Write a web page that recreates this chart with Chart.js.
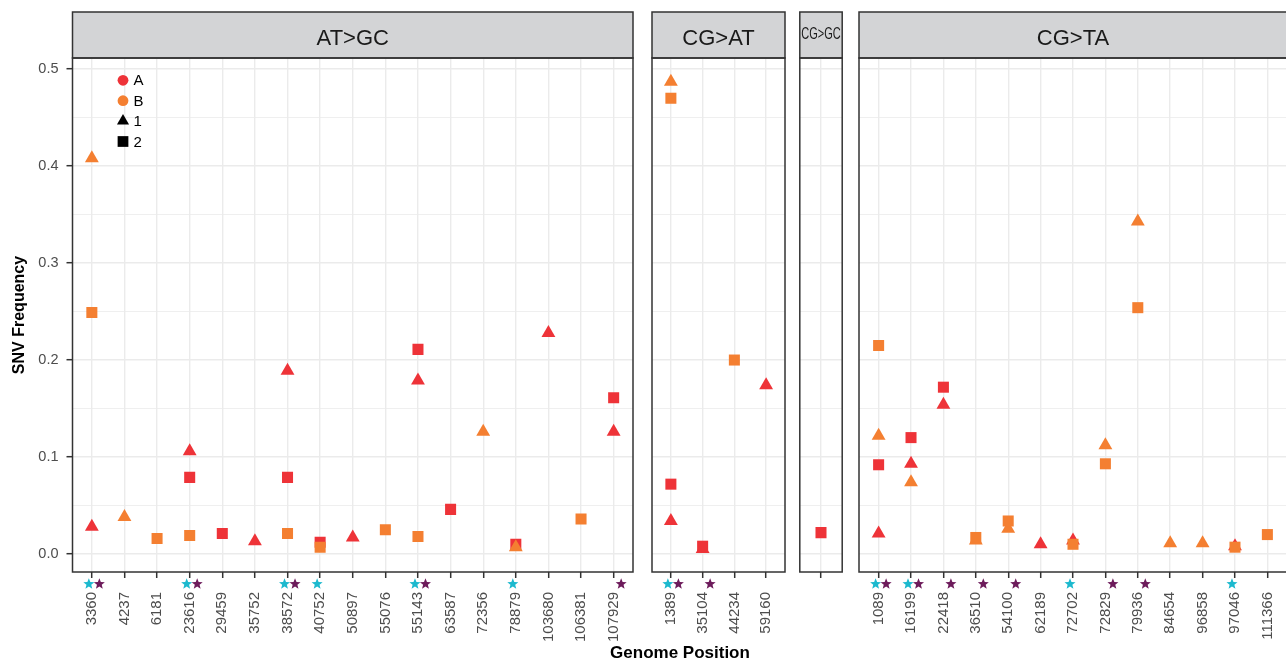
<!DOCTYPE html>
<html>
<head>
<meta charset="utf-8">
<title>SNV Frequency by Genome Position</title>
<script src="https://cdn.jsdelivr.net/npm/chart.js"></script>
<style>
  html, body { margin: 0; padding: 0; background: #fff; overflow: hidden; width: 1286px; height: 662px; }
  #wrap { position: relative; width: 1286px; height: 662px; overflow: hidden; }
  canvas { position: absolute; top: 0; }
  #xtitle {
    position: absolute; top: 643px; left: 560px; width: 240px; text-align: center;
    font: bold 17px "Liberation Sans", Arial, Helvetica, sans-serif; line-height: 20px; color: #000;
  }
</style>
</head>
<body>
<div id="wrap">
  <div id="xtitle">Genome Position</div>
</div>
<script>
// facets
const facets = ['AT>GC', 'CG>AT', 'CG>GC', 'CG>TA'];
const yTicks = [0, 0.1, 0.2, 0.3, 0.4, 0.5];

// AT>GC
const atgcPositions = ['3360', '4237', '6181', '23616', '29459', '35752', '38572', '40752', '50897',
  '55076', '55143', '63587', '72356', '78879', '103680', '106381', '107929'];
const atgcA1 = [0.028, null, null, 0.106, null, 0.013, 0.189, null, 0.017, null, 0.179, null, null, null, 0.228, null, 0.126];
const atgcA2 = [null, null, null, 0.079, 0.021, null, 0.079, 0.012, null, null, 0.211, 0.046, null, 0.010, null, null, 0.161];
const atgcB1 = [0.408, 0.038, null, null, null, null, null, null, null, null, null, null, 0.126, 0.007, null, null, null];
const atgcB2 = [0.249, null, 0.016, 0.019, null, null, 0.021, 0.007, null, 0.025, 0.018, null, null, null, null, 0.036, null];
const atgcCyan = ['3360', '23616', '38572', '40752', '55143', '78879'];
const atgcPurple = ['3360', '23616', '38572', '55143', '107929'];

// CG>AT
const cgatPositions = ['1389', '35104', '44234', '59160'];
const cgatA1 = [0.034, 0.005, null, 0.174];
const cgatA2 = [0.072, 0.008, null, null];
const cgatB1 = [0.487, null, null, null];
const cgatB2 = [0.470, null, 0.200, null];
const cgatCyan = ['1389'];
const cgatPurple = ['1389', '35104'];

// CG>GC
const cggcPositions = [''];
const cggcA1 = [null];
const cggcA2 = [0.022];
const cggcB1 = [null];
const cggcB2 = [null];
const cggcCyan = [];
const cggcPurple = [];

// CG>TA
const cgtaPositions = ['1089', '16199', '22418', '36510', '54100', '62189', '72702', '72829', '79936',
  '84654', '96858', '97046', '111366'];
const cgtaA1 = [0.021, 0.093, 0.154, null, null, 0.010, 0.014, null, null, null, null, 0.008, null];
const cgtaA2 = [0.092, 0.120, 0.172, null, null, null, null, null, null, null, null, null, null];
const cgtaB1 = [0.122, 0.074, null, 0.014, 0.026, null, null, 0.112, 0.343, 0.011, 0.011, null, null];
const cgtaB2 = [0.215, null, null, 0.017, 0.034, null, 0.010, 0.093, 0.254, null, null, 0.007, 0.020];
const cgtaCyan = ['1089', '16199', '72702', '97046'];
const cgtaPurple = ['1089', '16199', '22418', '36510', '54100', '72829', '79936'];

// look
const RED = '#EE3338', ORANGE = '#F47F31', CYAN = '#1CB9CE', PURPLE = '#6D1B5B';
const GRID = '#EBEBEB', INK = '#333333', TICKTXT = '#4D4D4D', STRIP = '#D3D4D6';
const FONT = '"Liberation Sans", Arial, Helvetica, sans-serif';
Chart.defaults.font.family = FONT;

const panelEdges = [[72.5, 634.5], [650, 787], [798, 844], [857, 1289]];
const STEP = 32.7;           // px per category, same in all facets
const Y_MIN = -0.0186, Y_MAX = 0.5115;
const PAD = 6;

const seriesStyle = [
  { name: 'A1', color: RED, style: 'triangle', r: 8 },
  { name: 'A2', color: RED, style: 'rect', r: 7.8 },
  { name: 'B1', color: ORANGE, style: 'triangle', r: 8 },
  { name: 'B2', color: ORANGE, style: 'rect', r: 7.8 }
];

const panels = [
  { labels: atgcPositions, values: [atgcA1, atgcA2, atgcB1, atgcB2], cyan: atgcCyan, purple: atgcPurple },
  { labels: cgatPositions, values: [cgatA1, cgatA2, cgatB1, cgatB2], cyan: cgatCyan, purple: cgatPurple },
  { labels: cggcPositions, values: [cggcA1, cggcA2, cggcB1, cggcB2], cyan: cggcCyan, purple: cggcPurple },
  { labels: cgtaPositions, values: [cgtaA1, cgtaA2, cgtaB1, cgtaB2], cyan: cgtaCyan, purple: cgtaPurple }
];

// major + minor y grid
const yGridValues = [];
yTicks.forEach((t, i) => {
  yGridValues.push(t);
  if (i < yTicks.length - 1) yGridValues.push(+(t + (yTicks[i + 1] - t) / 2).toFixed(3));
});
const isMajor = v => yTicks.some(t => Math.abs(t - v) < 1e-9);

function drawStar(ctx, x, y, R, r, color) {
  ctx.beginPath();
  for (let k = 0; k < 10; k++) {
    const rad = k % 2 ? r : R;
    const a = -Math.PI / 2 + k * Math.PI / 5;
    const px = x + rad * Math.cos(a), py = y + rad * Math.sin(a);
    if (k === 0) ctx.moveTo(px, py); else ctx.lineTo(px, py);
  }
  ctx.closePath();
  ctx.fillStyle = color;
  ctx.fill();
}

const facetPlugin = {
  id: 'facet',
  afterDraw(chart, args, opts) {
    const { ctx, chartArea: a } = chart;
    const xs = chart.scales.x;
    ctx.save();

    // strip
    ctx.fillStyle = STRIP;
    ctx.fillRect(a.left, 12, a.right - a.left, a.top - 12);
    ctx.lineWidth = 1.5;
    ctx.strokeStyle = INK;
    ctx.strokeRect(a.left, 12, a.right - a.left, a.top - 12);

    ctx.fillStyle = '#1A1A1A';
    ctx.textAlign = 'center';
    ctx.textBaseline = 'alphabetic';
    const cx = (a.left + a.right) / 2;
    const room = a.right - a.left - 3;
    ctx.font = '22px ' + FONT;
    let w = ctx.measureText(opts.strip).width;
    if (w > room) {
      ctx.font = '16px ' + FONT;
      w = ctx.measureText(opts.strip).width;
      ctx.save();
      ctx.translate(cx, 39);
      ctx.scale(room / w, 1);
      ctx.fillText(opts.strip, 0, 0);
      ctx.restore();
    } else {
      ctx.fillText(opts.strip, cx, 44.5);
    }

    // panel border
    ctx.strokeRect(a.left, a.top, a.right - a.left, a.bottom - a.top);

    // marks under the axis
    const sy = a.bottom + 12;
    opts.labels.forEach((lab, i) => {
      const x = xs.getPixelForValue(i);
      if (opts.cyan.includes(lab)) drawStar(ctx, x - 3, sy, 5.8, 2.5, CYAN);
      if (opts.purple.includes(lab)) drawStar(ctx, x + 7.5, sy, 5.8, 2.5, PURPLE);
    });

    // legend
    if (opts.legend) {
      const items = [
        { text: 'A', color: RED, style: 'circle', r: 5.4 },
        { text: 'B', color: ORANGE, style: 'circle', r: 5.4 },
        { text: '1', color: '#000', style: 'triangle', r: 7 },
        { text: '2', color: '#000', style: 'rect', r: 7.6 }
      ];
      const lx = a.left + 50.5;
      ctx.font = '15px ' + FONT;
      ctx.textAlign = 'left';
      ctx.textBaseline = 'middle';
      items.forEach((it, k) => {
        const ly = a.top + 22.3 + k * 20.4;
        ctx.fillStyle = it.color;
        Chart.helpers.drawPoint(ctx, { pointStyle: it.style, radius: it.r, rotation: 0, borderWidth: 0 }, lx, ly);
        ctx.fillStyle = '#000';
        ctx.fillText(it.text, lx + 10.5, ly + 1);
      });
    }
    ctx.restore();
  }
};

const wrap = document.getElementById('wrap');

facets.forEach((name, p) => {
  const cfg = panels[p];
  const labels = cfg.labels;
  const n = labels.length;
  const [L, R] = panelEdges[p];
  const first = p === 0;
  const cLeft = first ? 0 : Math.round(L) - PAD;
  const cWidth = Math.round(R) + PAD - cLeft;
  const xPad = ((R - L) / STEP - (n - 1)) / 2;

  const canvas = document.createElement('canvas');
  canvas.width = cWidth;
  canvas.height = 662;
  canvas.style.left = cLeft + 'px';
  canvas.style.width = cWidth + 'px';
  canvas.style.height = '662px';
  wrap.insertBefore(canvas, wrap.firstChild);

  const datasets = seriesStyle.map((s, k) => ({
    label: s.name,
    data: cfg.values[k].map((v, i) => v == null ? null : { x: i, y: v }).filter(d => d),
    pointStyle: s.style,
    pointRadius: s.r,
    pointHoverRadius: s.r,
    pointBackgroundColor: s.color,
    pointBorderWidth: 0,
    order: 3 - k
  }));

  new Chart(canvas.getContext('2d'), {
    type: 'scatter',
    data: { datasets: datasets },
    options: {
      responsive: false,
      animation: false,
      layout: { padding: { top: 58, bottom: 0, left: first ? 0 : L - cLeft, right: cLeft + cWidth - R } },
      plugins: {
        legend: { display: false },
        tooltip: { enabled: false },
        facet: { strip: name, labels: labels, cyan: cfg.cyan, purple: cfg.purple, legend: first }
      },
      scales: {
        x: {
          type: 'linear',
          min: -xPad,
          max: n - 1 + xPad,
          afterBuildTicks: s => { s.ticks = labels.map((_, i) => ({ value: i })); },
          afterFit: s => { s.height = 90; s.paddingLeft = 0; s.paddingRight = 0; },
          ticks: {
            autoSkip: false, minRotation: 90, maxRotation: 90, padding: 14,
            color: TICKTXT, font: { size: 15 },
            callback: (v, i) => labels[i]
          },
          grid: { color: GRID, lineWidth: 1.4, drawTicks: true, tickLength: 6, tickColor: INK, tickWidth: 1.5 },
          border: { display: false }
        },
        y: {
          type: 'linear',
          min: Y_MIN,
          max: Y_MAX,
          afterBuildTicks: s => { s.ticks = yGridValues.map(v => ({ value: v })); },
          afterFit: s => { s.width = first ? L - cLeft : 0; s.paddingTop = 0; s.paddingBottom = 0; },
          ticks: {
            display: first, autoSkip: false, padding: 8, color: TICKTXT, font: { size: 14.5 },
            callback: v => isMajor(v) ? v.toFixed(1) : ''
          },
          grid: {
            drawTicks: first, tickLength: 6, tickWidth: 1.5, color: GRID,
            lineWidth: c => (c.tick && isMajor(c.tick.value)) ? 1.4 : 0.8,
            tickColor: c => (c.tick && isMajor(c.tick.value)) ? INK : 'rgba(0,0,0,0)'
          },
          border: { display: false },
          title: {
            display: first, text: 'SNV Frequency', color: '#000',
            font: { size: 16, weight: 'bold' }, padding: { top: 10, bottom: 0 }
          }
        }
      }
    },
    plugins: [facetPlugin]
  });
});
</script>
</body>
</html>
